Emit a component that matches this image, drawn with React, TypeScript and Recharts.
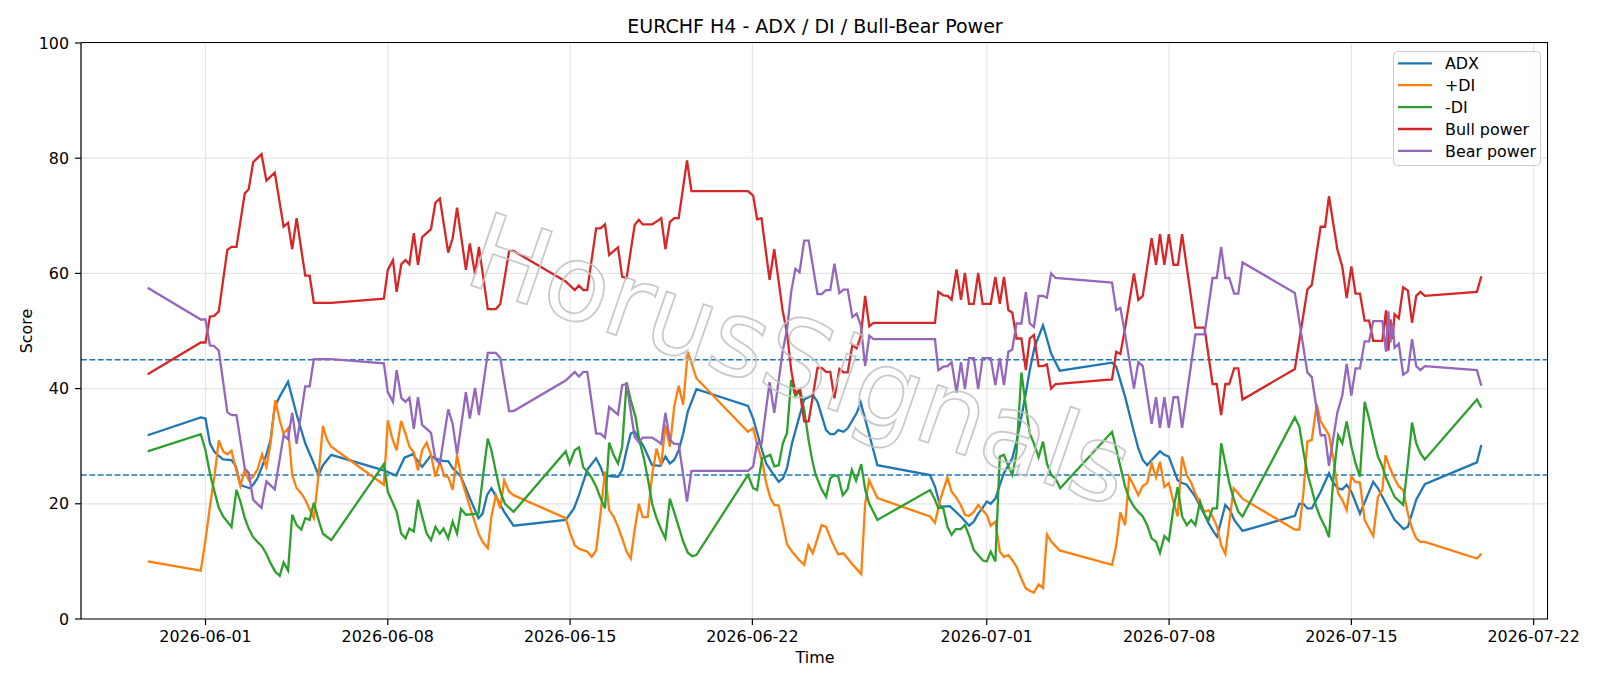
import { LineChart, Line, XAxis, YAxis, CartesianGrid, ReferenceLine } from "recharts"

// x = days since 2026-06-01 00:00 (H4 bars, weekends missing)
const xTickDays = [0, 7, 14, 21, 30, 37, 44, 51]
const xTickLabels = [
  "2026-06-01", "2026-06-08", "2026-06-15", "2026-06-22",
  "2026-07-01", "2026-07-08", "2026-07-15", "2026-07-22",
]
const yTicks = [0, 20, 40, 60, 80, 100]
const thresholds = [45, 25]

const adx: [number, number][] = [
  [-2.22, 31.9], [-0.18, 35.0], [0, 34.8], [0.17, 30.5], [0.33, 29.1], [0.51, 28.3], [0.68, 27.7], [1.0, 27.6],
  [1.17, 26.5], [1.34, 23.3], [1.5, 23.0], [1.7, 22.7], [1.83, 23.3], [1.99, 24.4], [2.17, 26.4], [2.34, 28.6],
  [2.5, 31.1], [2.66, 36.9], [2.85, 38.6], [3.17, 41.2], [3.5, 35.5], [3.83, 30.5], [4.16, 27.0], [4.34, 25.0],
  [4.51, 26.7], [4.83, 28.5],
  [6.85, 25.8], [7.0, 25.5], [7.32, 24.9], [7.64, 28.0], [7.96, 28.6], [8.32, 26.4], [8.64, 28.3], [8.82, 27.9],
  [9.14, 27.4], [9.32, 27.4], [9.49, 26.2], [9.81, 24.7], [10.13, 21.2], [10.48, 17.5], [10.64, 18.3], [10.81, 21.5],
  [10.98, 22.7], [11.47, 18.6], [11.83, 16.2],
  [13.83, 17.2], [14.15, 19.2], [14.34, 21.5], [14.66, 25.9], [14.83, 26.9], [15.0, 27.9], [15.17, 26.4], [15.3, 24.9],
  [15.84, 24.7], [16.0, 25.9], [16.17, 29.3], [16.33, 32.2], [16.48, 32.5], [16.83, 29.9], [17.15, 26.7], [17.47, 26.6],
  [17.66, 28.2], [17.83, 27.0], [18.0, 27.6], [18.17, 29.3], [18.34, 32.1], [18.52, 36.0], [18.85, 39.9],
  [20.83, 37.0], [21.03, 34.8], [21.37, 29.3], [21.53, 27.0], [21.69, 25.9], [22.01, 23.8], [22.17, 24.4], [22.33, 26.2],
  [22.52, 30.5], [22.8, 35.1], [22.99, 38.1], [23.32, 38.9], [23.5, 37.7], [23.83, 32.8], [23.99, 32.1], [24.15, 32.1],
  [24.3, 32.8], [24.5, 32.5], [24.66, 33.1], [25.0, 35.7], [25.16, 37.6], [25.8, 26.7],
  [27.82, 25.0], [28.01, 23.0], [28.22, 19.5], [28.58, 19.6], [29.0, 17.8], [29.32, 16.2], [29.5, 16.9], [29.67, 18.3],
  [29.83, 19.2], [30.0, 20.4], [30.15, 20.0], [30.33, 20.9], [30.5, 23.3], [30.66, 25.3], [30.83, 26.7], [30.98, 27.9],
  [31.14, 30.8], [31.33, 35.1], [31.5, 39.2], [31.65, 43.2], [31.84, 47.3], [32.16, 51.0], [32.47, 46.1], [32.8, 43.1],
  [34.81, 44.5], [34.97, 43.8], [35.31, 38.6], [35.65, 32.5], [35.82, 29.6], [35.99, 27.6], [36.16, 26.7], [36.33, 27.6],
  [36.65, 29.1], [36.82, 28.5], [36.99, 28.2], [37.33, 24.1], [37.5, 23.6], [37.68, 23.3], [38.01, 21.2], [38.36, 18.1],
  [38.52, 16.6], [38.7, 15.2], [38.84, 14.3], [39.16, 19.8], [39.34, 18.9], [39.5, 17.2], [39.82, 15.3],
  [41.83, 17.9], [42.0, 20.0], [42.16, 20.0], [42.31, 19.2], [42.48, 19.2], [42.82, 22.1], [43.14, 25.3], [43.31, 23.6],
  [43.49, 22.7], [43.65, 22.5], [43.82, 23.3], [44.0, 22.1], [44.33, 18.3], [44.84, 23.8], [45.02, 22.7], [45.66, 17.2],
  [46.01, 15.6], [46.17, 16.0], [46.49, 20.7], [46.82, 23.4],
  [48.82, 27.2], [48.99, 30.2],
]

const plusDi: [number, number][] = [
  [-2.22, 10.0], [-0.18, 8.4], [0, 13.7], [0.17, 19.5], [0.35, 25.0], [0.51, 31.0], [0.68, 29.1], [0.84, 28.6],
  [1.0, 29.2], [1.17, 26.0], [1.34, 23.1], [1.51, 25.9], [1.66, 24.1], [1.83, 24.7], [2.0, 26.0], [2.17, 28.6],
  [2.34, 26.4], [2.5, 30.5], [2.68, 38.0], [2.85, 34.5], [3.0, 32.2], [3.17, 33.1], [3.33, 25.0], [3.5, 22.7],
  [3.68, 21.8], [3.83, 20.7], [4.16, 17.5], [4.34, 25.0], [4.51, 33.5], [4.67, 31.1], [4.83, 29.9],
  [6.85, 23.3], [7.0, 34.5], [7.17, 31.4], [7.34, 29.3], [7.51, 34.4], [7.68, 32.2], [7.83, 29.9], [8.0, 28.9],
  [8.16, 25.8], [8.32, 29.3], [8.49, 30.6], [8.66, 28.5], [8.83, 24.7], [9.0, 27.3], [9.17, 24.8], [9.32, 24.7],
  [9.49, 22.4], [9.66, 28.5], [9.84, 24.1], [10.15, 19.5], [10.48, 14.9], [10.64, 13.4], [10.84, 12.3], [10.98, 17.8],
  [11.15, 21.5], [11.32, 19.2], [11.47, 24.1], [11.66, 22.1], [11.83, 21.5],
  [13.83, 17.5], [14.0, 15.0], [14.18, 12.8], [14.34, 12.2], [14.66, 11.7], [14.83, 10.8], [15.0, 11.9], [15.17, 18.3],
  [15.34, 25.6], [15.5, 18.9], [15.67, 17.8], [15.84, 16.0], [16.0, 14.0], [16.17, 11.7], [16.33, 10.5], [16.48, 15.5],
  [16.64, 20.0], [16.79, 17.7], [16.98, 17.7], [17.15, 25.0], [17.32, 29.6], [17.5, 26.7], [17.66, 33.7], [17.83, 29.9],
  [18.0, 36.9], [18.17, 40.5], [18.34, 37.2], [18.52, 46.4], [18.85, 41.8],
  [20.83, 32.5], [21.03, 33.1], [21.2, 30.0], [21.37, 27.5], [21.53, 23.6], [21.69, 21.0], [21.84, 19.8], [22.01, 19.7],
  [22.17, 16.5], [22.33, 13.0], [22.52, 11.7], [22.8, 10.2], [22.99, 9.4], [23.15, 12.8], [23.32, 11.4], [23.66, 16.3],
  [23.83, 16.0], [24.0, 14.0], [24.15, 12.5], [24.3, 11.2], [24.5, 11.4], [24.66, 10.5], [24.84, 9.5], [25.18, 7.8],
  [25.33, 20.0], [25.48, 24.1], [25.8, 21.0],
  [27.82, 17.8], [28.01, 16.7], [28.2, 20.5], [28.49, 24.6], [28.65, 22.1], [28.81, 21.2], [29.0, 19.8], [29.16, 18.1],
  [29.32, 17.9], [29.5, 18.6], [29.67, 19.8], [29.84, 18.9], [30.0, 18.1], [30.15, 16.2], [30.33, 16.9], [30.5, 11.7],
  [30.66, 10.8], [30.83, 11.1], [30.98, 10.2], [31.14, 9.1], [31.33, 7.0], [31.5, 5.3], [31.65, 4.9], [31.81, 4.6],
  [31.99, 6.0], [32.16, 5.4], [32.31, 14.7], [32.47, 13.5], [32.8, 11.9],
  [34.81, 9.4], [34.97, 12.7], [35.13, 18.5], [35.31, 16.3], [35.47, 24.7], [35.65, 23.1], [35.82, 21.5], [35.99, 23.1],
  [36.16, 23.6], [36.33, 27.0], [36.5, 24.6], [36.65, 27.3], [36.82, 22.9], [36.99, 23.6], [37.16, 20.5], [37.33, 17.8],
  [37.5, 28.2], [37.68, 25.0], [37.85, 23.6], [38.01, 21.8], [38.19, 20.0], [38.36, 18.6], [38.52, 18.9], [38.67, 17.8],
  [38.84, 16.0], [39.0, 12.8], [39.16, 11.3], [39.32, 17.0], [39.48, 22.7], [39.66, 21.8], [39.82, 20.9],
  [41.83, 15.5], [42.0, 15.5], [42.16, 22.0], [42.31, 30.8], [42.48, 31.1], [42.67, 37.3], [42.82, 34.3], [43.14, 31.9],
  [43.31, 27.9], [43.49, 21.8], [43.65, 20.7], [43.82, 18.9], [44.0, 24.7], [44.16, 23.8], [44.33, 23.7], [44.51, 17.2],
  [44.68, 15.7], [44.84, 14.4], [45.02, 21.2], [45.19, 22.4], [45.31, 28.4], [45.48, 26.2], [45.66, 24.4], [45.82, 23.0],
  [45.99, 22.4], [46.17, 18.3], [46.33, 15.7], [46.49, 14.0], [46.65, 13.4], [46.82, 13.4],
  [48.82, 10.5], [48.99, 11.3],
]

const minusDi: [number, number][] = [
  [-2.22, 29.1], [-0.18, 32.1], [0, 29.3], [0.17, 25.3], [0.33, 22.4], [0.51, 19.3], [0.68, 17.8], [0.84, 16.9],
  [1.0, 16.0], [1.19, 22.4], [1.34, 20.4], [1.51, 17.5], [1.66, 15.7], [1.83, 14.2], [1.99, 13.4], [2.17, 12.6],
  [2.34, 11.3], [2.5, 9.7], [2.68, 8.2], [2.85, 7.5], [3.0, 9.8], [3.17, 8.4], [3.33, 18.1], [3.5, 16.3],
  [3.68, 15.5], [3.83, 17.5], [4.0, 17.2], [4.16, 20.2], [4.34, 17.2], [4.51, 14.8], [4.83, 13.7],
  [6.85, 26.9], [7.0, 22.1], [7.17, 20.4], [7.34, 18.6], [7.51, 14.9], [7.68, 14.0], [7.83, 15.7], [8.0, 15.2],
  [8.16, 20.7], [8.32, 17.8], [8.49, 14.9], [8.66, 13.7], [8.83, 16.0], [9.0, 14.8], [9.14, 15.7], [9.32, 14.0],
  [9.49, 16.9], [9.66, 14.8], [9.81, 19.1], [10.0, 18.1], [10.48, 18.3], [10.66, 25.0], [10.84, 31.3], [10.98, 29.3],
  [11.15, 25.5], [11.32, 22.1], [11.5, 20.0], [11.83, 18.6],
  [13.83, 29.1], [13.98, 27.0], [14.18, 29.3], [14.34, 29.8], [14.51, 26.3], [14.66, 25.6], [14.83, 24.5], [15.0, 23.0],
  [15.17, 21.0], [15.34, 19.2], [15.5, 30.6], [15.67, 28.5], [15.84, 27.0], [16.0, 29.9], [16.17, 41.1], [16.33, 38.0],
  [16.51, 35.1], [16.66, 31.0], [16.83, 28.0], [17.0, 24.0], [17.15, 20.0], [17.32, 17.5], [17.5, 15.5], [17.66, 14.0],
  [17.83, 20.9], [18.0, 18.5], [18.17, 16.0], [18.34, 13.5], [18.52, 11.5], [18.69, 10.9], [18.85, 11.1],
  [20.83, 25.0], [21.03, 22.7], [21.18, 22.4], [21.37, 27.9], [21.53, 28.2], [21.69, 28.5], [21.84, 26.5], [22.01, 26.7],
  [22.17, 30.5], [22.33, 32.3], [22.49, 41.5], [22.65, 38.6], [22.84, 39.8], [23.0, 36.0], [23.16, 31.0], [23.3, 27.5],
  [23.43, 25.0], [23.66, 22.5], [23.83, 21.2], [23.99, 24.4], [24.15, 25.0], [24.3, 24.7], [24.47, 21.5], [24.65, 22.5],
  [24.82, 25.9], [24.98, 24.0], [25.18, 26.9], [25.33, 22.5], [25.48, 20.1], [25.8, 17.2],
  [27.82, 22.4], [28.0, 20.8], [28.14, 19.2], [28.32, 19.4], [28.49, 16.0], [28.65, 14.6], [28.81, 15.6], [29.0, 15.6],
  [29.16, 16.3], [29.32, 14.5], [29.5, 12.0], [29.67, 11.1], [29.84, 10.2], [30.0, 10.0], [30.15, 11.7], [30.33, 10.0],
  [30.5, 28.2], [30.66, 28.5], [30.83, 26.5], [30.98, 25.0], [31.14, 28.8], [31.33, 42.8], [31.5, 37.0], [31.65, 32.2],
  [31.81, 30.5], [31.99, 28.1], [32.16, 30.8], [32.31, 27.0], [32.47, 25.0], [32.64, 24.4], [32.82, 22.7],
  [34.81, 32.5], [34.97, 29.5], [35.13, 26.5], [35.31, 23.0], [35.47, 20.9], [35.65, 19.5], [35.82, 18.6], [35.99, 17.8],
  [36.16, 16.3], [36.33, 14.0], [36.5, 13.4], [36.65, 11.5], [36.82, 14.4], [36.99, 13.6], [37.16, 19.0], [37.33, 22.9],
  [37.5, 17.8], [37.68, 16.3], [37.85, 17.2], [38.01, 16.3], [38.19, 20.4], [38.36, 18.1], [38.52, 17.2], [38.67, 19.2],
  [38.84, 19.2], [39.0, 30.5], [39.16, 27.0], [39.32, 23.5], [39.48, 20.9], [39.66, 18.6], [39.82, 17.8],
  [41.83, 35.0], [42.0, 33.4], [42.16, 29.0], [42.31, 25.3], [42.48, 22.5], [42.65, 19.5], [42.82, 17.5], [42.99, 16.0],
  [43.14, 14.2], [43.31, 24.5], [43.49, 31.9], [43.65, 30.5], [43.82, 34.3], [44.0, 30.0], [44.16, 27.0], [44.33, 24.7],
  [44.51, 37.7], [44.68, 34.8], [44.84, 31.5], [45.02, 28.2], [45.19, 26.5], [45.33, 24.5], [45.66, 21.2], [45.99, 19.8],
  [46.17, 27.0], [46.33, 34.1], [46.49, 30.5], [46.65, 28.8], [46.82, 27.7],
  [48.82, 38.1], [48.99, 36.7],
]

const bullPower: [number, number][] = [
  [-2.22, 42.5], [-0.18, 48.0], [0, 48.0], [0.17, 52.5], [0.33, 52.6], [0.51, 53.4], [0.84, 64.1], [1.0, 64.6],
  [1.19, 64.6], [1.51, 73.9], [1.66, 74.6], [1.83, 79.3], [2.15, 80.7], [2.34, 76.1], [2.66, 77.5], [3.0, 68.1],
  [3.17, 68.8], [3.33, 64.2], [3.5, 69.6], [3.68, 64.1], [3.83, 59.6], [4.0, 59.6], [4.16, 54.9], [4.83, 54.9],
  [6.85, 55.6], [7.0, 60.6], [7.2, 62.3], [7.34, 56.8], [7.52, 61.6], [7.68, 62.3], [7.83, 61.6], [8.0, 67.0],
  [8.16, 61.5], [8.32, 66.3], [8.66, 67.7], [8.83, 72.3], [9.0, 73.0], [9.32, 63.6], [9.49, 66.1], [9.66, 71.4],
  [10.0, 60.6], [10.15, 65.2], [10.35, 59.9], [10.5, 64.6], [10.84, 53.8], [11.15, 53.8], [11.32, 54.7], [11.66, 63.9],
  [11.83, 63.9],
  [13.83, 58.6], [14.18, 57.1], [14.34, 57.9], [14.51, 57.1], [14.66, 57.1], [15.0, 67.8], [15.17, 67.8], [15.34, 68.5],
  [15.5, 63.2], [15.84, 64.5], [16.0, 59.4], [16.17, 59.2], [16.48, 68.4], [16.64, 69.3], [16.79, 68.5], [17.15, 68.5],
  [17.32, 69.0], [17.5, 69.6], [17.66, 64.2], [17.83, 68.9], [18.0, 69.6], [18.17, 69.6], [18.49, 79.6], [18.66, 74.3],
  [20.83, 74.3], [21.03, 73.5], [21.18, 69.4], [21.35, 69.6], [21.66, 58.9], [21.84, 64.2], [22.16, 53.6], [22.33, 49.7],
  [22.49, 43.2], [22.65, 39.2], [22.81, 39.8], [22.99, 34.3], [23.16, 34.3], [23.5, 43.6], [23.66, 43.6], [23.83, 42.9],
  [23.99, 42.9], [24.15, 38.3], [24.34, 43.4], [24.5, 42.8], [24.66, 42.8], [24.84, 47.6], [25.0, 47.0], [25.16, 49.0],
  [25.33, 56.1], [25.49, 50.8], [25.65, 51.4],
  [28.01, 51.4], [28.14, 56.8], [28.33, 56.2], [28.5, 56.1], [28.65, 55.4], [28.84, 60.7], [29.01, 55.4], [29.16, 60.1],
  [29.32, 54.7], [29.5, 54.7], [29.67, 60.1], [29.84, 54.7], [30.0, 54.7], [30.15, 54.7], [30.33, 59.4], [30.5, 54.7],
  [30.66, 59.4], [30.83, 53.6], [30.98, 53.2], [31.14, 48.7], [31.33, 48.7], [31.5, 43.2], [31.65, 48.7], [31.81, 49.3],
  [31.99, 43.9], [32.16, 43.9], [32.31, 44.2], [32.47, 40.0], [32.64, 40.8],
  [34.81, 41.6], [34.97, 46.4], [35.13, 46.0], [35.31, 50.5], [35.65, 60.0], [35.82, 55.4], [35.99, 56.1], [36.33, 66.1],
  [36.5, 61.5], [36.65, 66.8], [36.82, 61.5], [36.99, 66.8], [37.17, 61.5], [37.34, 61.5], [37.5, 66.8], [38.01, 50.6],
  [38.36, 50.6], [38.67, 40.8], [38.83, 40.8], [39.0, 35.4], [39.16, 40.8], [39.31, 40.8], [39.5, 43.5], [39.66, 43.5],
  [39.82, 38.1],
  [41.83, 43.4], [42.31, 57.2], [42.48, 58.0], [42.82, 68.1], [42.99, 68.1], [43.14, 73.4], [43.46, 64.2], [43.65, 61.2],
  [43.82, 55.7], [44.0, 61.2], [44.16, 56.5], [44.33, 56.5], [44.51, 51.8], [44.68, 51.8], [44.84, 48.3], [45.19, 48.3],
  [45.33, 53.6], [45.42, 46.6], [45.5, 52.0], [45.58, 48.6], [45.66, 52.9], [45.82, 52.2], [45.99, 57.6], [46.17, 57.0],
  [46.33, 51.4], [46.49, 56.1], [46.65, 56.8], [46.82, 56.1],
  [48.82, 56.8], [48.99, 59.5],
]

const bearPower: [number, number][] = [
  [-2.22, 57.5], [-0.18, 52.0], [0, 52.0], [0.17, 47.5], [0.33, 47.4], [0.51, 46.6], [0.84, 35.9], [1.0, 35.4],
  [1.19, 35.4], [1.51, 26.1], [1.66, 25.4], [1.83, 20.7], [2.15, 19.3], [2.34, 23.9], [2.66, 22.5], [3.0, 31.9],
  [3.17, 31.2], [3.33, 35.8], [3.5, 30.4], [3.68, 35.9], [3.83, 40.4], [4.0, 40.4], [4.16, 45.1], [4.83, 45.1],
  [6.85, 44.4], [7.0, 39.4], [7.2, 37.7], [7.34, 43.2], [7.52, 38.4], [7.68, 37.7], [7.83, 38.4], [8.0, 33.0],
  [8.16, 38.5], [8.32, 33.7], [8.66, 32.3], [8.83, 27.7], [9.0, 27.0], [9.32, 36.4], [9.49, 33.9], [9.66, 28.6],
  [10.0, 39.4], [10.15, 34.8], [10.35, 40.1], [10.5, 35.4], [10.84, 46.2], [11.15, 46.2], [11.32, 45.3], [11.66, 36.1],
  [11.83, 36.1],
  [13.83, 41.4], [14.18, 42.9], [14.34, 42.1], [14.51, 42.9], [14.66, 42.9], [15.0, 32.2], [15.17, 32.2], [15.34, 31.5],
  [15.5, 36.8], [15.84, 35.5], [16.0, 40.6], [16.17, 40.8], [16.48, 31.6], [16.64, 30.7], [16.79, 31.5], [17.15, 31.5],
  [17.32, 31.0], [17.5, 30.4], [17.66, 35.8], [17.83, 31.1], [18.0, 30.4], [18.17, 30.4], [18.49, 20.4], [18.66, 25.7],
  [20.83, 25.7], [21.03, 26.5], [21.18, 30.6], [21.35, 30.4], [21.66, 41.1], [21.84, 35.8], [22.16, 46.4], [22.33, 50.3],
  [22.49, 56.8], [22.65, 60.8], [22.81, 60.2], [22.99, 65.7], [23.16, 65.7], [23.5, 56.4], [23.66, 56.4], [23.83, 57.1],
  [23.99, 57.1], [24.15, 61.7], [24.34, 56.6], [24.5, 57.2], [24.66, 57.2], [24.84, 52.4], [25.0, 53.0], [25.16, 51.0],
  [25.33, 43.9], [25.49, 49.2], [25.65, 48.6],
  [28.01, 48.6], [28.14, 43.2], [28.33, 43.8], [28.5, 43.9], [28.65, 44.6], [28.84, 39.3], [29.01, 44.6], [29.16, 39.9],
  [29.32, 45.3], [29.5, 45.3], [29.67, 39.9], [29.84, 45.3], [30.0, 45.3], [30.15, 45.3], [30.33, 40.6], [30.5, 45.3],
  [30.66, 40.6], [30.83, 46.4], [30.98, 46.8], [31.14, 51.3], [31.33, 51.3], [31.5, 56.8], [31.65, 51.3], [31.81, 50.7],
  [31.99, 56.1], [32.16, 56.1], [32.31, 55.8], [32.47, 60.0], [32.64, 59.2],
  [34.81, 58.4], [34.97, 53.6], [35.13, 54.0], [35.31, 49.5], [35.65, 40.0], [35.82, 44.6], [35.99, 43.9], [36.33, 33.9],
  [36.5, 38.5], [36.65, 33.2], [36.82, 38.5], [36.99, 33.2], [37.17, 38.5], [37.34, 38.5], [37.5, 33.2], [38.01, 49.4],
  [38.36, 49.4], [38.67, 59.2], [38.83, 59.2], [39.0, 64.6], [39.16, 59.2], [39.31, 59.2], [39.5, 56.5], [39.66, 56.5],
  [39.82, 61.9],
  [41.83, 56.6], [42.31, 42.8], [42.48, 42.0], [42.82, 31.9], [42.99, 31.9], [43.14, 26.6], [43.46, 35.8], [43.65, 38.8],
  [43.82, 44.3], [44.0, 38.8], [44.16, 43.5], [44.33, 43.5], [44.51, 48.2], [44.68, 48.2], [44.84, 51.7], [45.19, 51.7],
  [45.33, 46.4], [45.42, 53.4], [45.5, 48.0], [45.58, 51.4], [45.66, 47.1], [45.82, 47.8], [45.99, 42.4], [46.17, 43.0],
  [46.33, 48.6], [46.49, 43.9], [46.65, 43.2], [46.82, 43.9],
  [48.82, 43.2], [48.99, 40.5],
]

const seriesNames = ["ADX", "+DI", "-DI", "Bull power", "Bear power"]
const seriesPoints = [adx, plusDi, minusDi, bullPower, bearPower]
const seriesColors = ["#1f77b4", "#ff7f0e", "#2ca02c", "#d62728", "#9467bd"]

const FONT = "DejaVu Sans"
const W = 1600
const H = 686

const toRows = (pts: [number, number][]) => pts.map(([t, v]) => ({ t, v }))

function App() {

  const tickStyle = { fontSize: 15.9, fill: "#000", fontFamily: FONT }

  return (
    <div style={{ position: "absolute", left: 0, top: 0, width: W, height: H, background: "#fff" }}>

      <LineChart
        width={W}
        height={H}
        margin={{ top: 43, right: 52, bottom: 0, left: 0 }}
      >
        <CartesianGrid stroke="#e6e6e6" strokeWidth={1.2} />

        <XAxis
          type="number"
          dataKey="t"
          domain={[-4.78, 51.55]}
          ticks={xTickDays}
          interval={0}
          allowDataOverflow
          tickFormatter={(d) => xTickLabels[xTickDays.indexOf(d)] ?? ""}
          tick={tickStyle}
          tickSize={6}
          tickMargin={6}
          height={67}
          axisLine={{ stroke: "#000", strokeWidth: 1.2 }}
          tickLine={{ stroke: "#000", strokeWidth: 1.2 }}
        />

        <YAxis
          type="number"
          domain={[0, 100]}
          ticks={yTicks}
          interval={0}
          tick={tickStyle}
          tickSize={6}
          tickMargin={6}
          width={81}
          axisLine={{ stroke: "#000", strokeWidth: 1.2 }}
          tickLine={{ stroke: "#000", strokeWidth: 1.2 }}
        />

        {thresholds.map((y) => (
          <ReferenceLine
            key={y}
            y={y}
            stroke="#1f77b4"
            strokeWidth={1.6}
            strokeDasharray="5.9 2.5"
          />
        ))}

        {seriesNames.map((name, i) => (
          <Line
            key={name}
            name={name}
            data={toRows(seriesPoints[i])}
            dataKey="v"
            type="linear"
            stroke={seriesColors[i]}
            strokeWidth={2.3}
            dot={false}
            activeDot={false}
            isAnimationActive={false}
          />
        ))}
      </LineChart>

      {/* top / right spines */}
      <div style={{
        position: "absolute", left: 81, top: 42, width: 1467, height: 577,
        borderTop: "1.2px solid #000", borderRight: "1.2px solid #000",
        boxSizing: "border-box", pointerEvents: "none",
      }} />

      <svg
        width={W}
        height={H}
        style={{ position: "absolute", left: 0, top: 0, pointerEvents: "none" }}
        fontFamily={FONT}
      >
        <text
          x={800}
          y={360}
          textAnchor="middle"
          dominantBaseline="central"
          transform="rotate(19 800 360)"
          fontSize={106}
          fill="none"
          stroke="#c2c2c2"
          strokeWidth={1.7}
          strokeOpacity={0.9}
        >
          HorusSignals
        </text>

        <text x={815} y={33} textAnchor="middle" fontSize={19} fill="#000">
          EURCHF H4 - ADX / DI / Bull-Bear Power
        </text>
        <text x={815} y={663} textAnchor="middle" fontSize={15.9} fill="#000">
          Time
        </text>
        <text
          x={31.5}
          y={331}
          textAnchor="middle"
          fontSize={15.9}
          fill="#000"
          transform="rotate(-90 31.5 331)"
        >
          Score
        </text>

        {/* legend */}
        <rect
          x={1393.5}
          y={51.5}
          width={147}
          height={114}
          rx={4}
          fill="#fff"
          fillOpacity={0.8}
          stroke="#cccccc"
        />
        {seriesNames.map((name, i) => {
          const cy = 63.3 + i * 21.9
          return (
            <g key={name}>
              <line x1={1398} x2={1432} y1={cy} y2={cy} stroke={seriesColors[i]} strokeWidth={2.3} />
              <text x={1445} y={cy + 5.6} fontSize={15.9} fill="#000">{name}</text>
            </g>
          )
        })}
      </svg>

    </div>
  )
}

export default App
